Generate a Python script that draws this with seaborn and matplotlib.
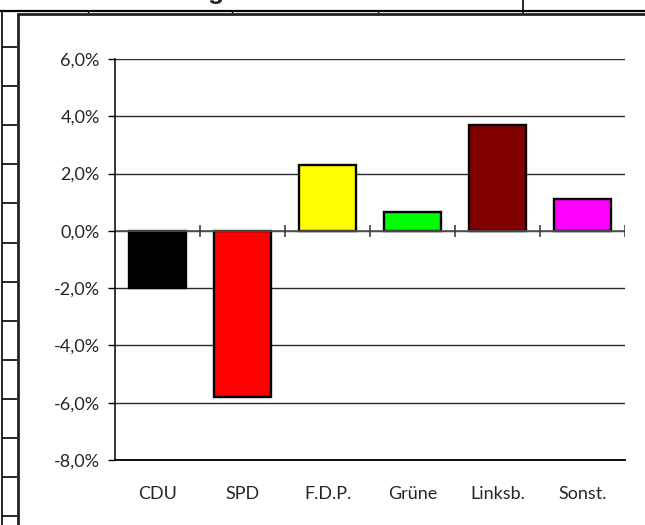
import matplotlib
matplotlib.use("Agg")
import matplotlib.pyplot as plt
import seaborn as sns
from matplotlib.lines import Line2D
from matplotlib.ticker import FuncFormatter, MultipleLocator

# Veraenderung der Stimmenanteile (Prozentpunkte)
parties = ["CDU", "SPD", "F.D.P.", "Grüne", "Linksb.", "Sonst."]
change = [-2.0, -5.8, 2.3, 0.65, 3.7, 1.1]
colors = ["#000000", "#FF0000", "#FFFF00", "#00FF00", "#800000", "#FF00FF"]

W, H = 645, 525
sns.set_style("white")
plt.rcParams['font.family'] = ['Lato', 'DejaVu Sans']

fig = plt.figure(figsize=(W / 100, H / 100), dpi=100)
fig.patch.set_facecolor("white")


def fx(x):
    return x / W


def fy(y):
    return 1 - y / H


# plot area placed like the spreadsheet chart
ax = fig.add_axes([fx(115), fy(460), fx(625) - fx(115), fy(59) - fy(460)])

sns.barplot(x=parties, y=change, hue=parties, palette=colors, legend=False,
            width=0.68, edgecolor="black", linewidth=1.7, saturation=1, ax=ax)

ax.set_ylim(-8, 6)
ax.set_xlim(-0.5, 5.5)
ax.yaxis.set_major_locator(MultipleLocator(2))
ax.yaxis.set_major_formatter(FuncFormatter(lambda v, p: f"{v:.1f}%".replace(".", ",")))
ax.grid(axis="y", color="#2a2a2a", linewidth=1)
ax.set_axisbelow(True)

# category axis at zero with crossing tick marks
ax.axhline(0, color="#555555", linewidth=1.2, zorder=1.5)
ax.vlines([i + 0.5 for i in range(len(parties))], -0.22, 0.22,
          color="#333333", linewidth=1.1, zorder=1.5)

for s in ["top", "right"]:
    ax.spines[s].set_visible(False)
ax.spines["left"].set_color("black")
ax.spines["left"].set_linewidth(1.1)
ax.spines["bottom"].set_color("black")
ax.spines["bottom"].set_linewidth(1.3)

ax.tick_params(axis="y", length=5, width=1, color="black", pad=6, labelsize=13, left=True)
ax.tick_params(axis="x", length=0, pad=19, labelsize=13)
ax.set_xlabel("")
ax.set_ylabel("")

# spreadsheet frame around the chart
lines = [
    ([0, W], [10.5, 10.5], 1.6, "black"),
    ([88, 88], [10, 13], 1, "black"),
    ([232, 232], [10, 13], 1, "black"),
    ([378, 378], [10, 13], 1, "black"),
    ([523, 523], [0, 13], 1.2, "black"),
    ([17, W], [13.5, 13.5], 2, "#222222"),
    ([17.5, 17.5], [13, H], 2, "#222222"),
    ([1.5, 1.5], [10, H], 1.2, "black"),
]
for k in range(13):
    y = 47 + 39.1 * k
    lines.append(([1.5, 17], [y, y], 1.2, "black"))
for xs, ys, lw, c in lines:
    fig.add_artist(Line2D([fx(v) for v in xs], [fy(v) for v in ys],
                          linewidth=lw, color=c, solid_capstyle="butt"))

# title cut off by the screenshot, only the descender remains
fig.text(fx(225), fy(-1.5), "Veränderung", ha="right", va="baseline",
         fontsize=19, fontweight="bold", family=["Liberation Sans", "DejaVu Sans"])

fig.savefig("out.png", dpi=100, facecolor="white")
